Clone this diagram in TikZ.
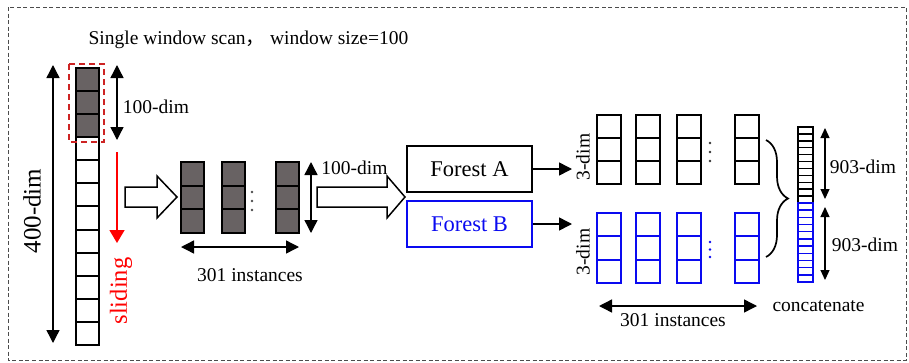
\documentclass[tikz,border=0pt]{standalone}
\usepackage{fontspec}
\setmainfont{Liberation Serif}
\newfontfamily\cjk{Noto Sans CJK SC}
\usetikzlibrary{arrows.meta,decorations.pathreplacing}
\definecolor{cellgray}{RGB}{104,98,99}
\definecolor{winred}{RGB}{205,35,35}
\definecolor{slidered}{RGB}{255,0,0}
\definecolor{fblue}{RGB}{10,10,240}
\tikzset{
  cell/.style={draw=black, line width=1.8pt},
  bcell/.style={draw=fblue, line width=1.8pt},
  thincell/.style={draw=black, line width=1.4pt},
  thinbcell/.style={draw=fblue, line width=1.4pt},
  lbl/.style={inner sep=0pt, font=\fontsize{19.5}{22}\selectfont},
  biglbl/.style={inner sep=0pt, font=\fontsize{25}{28}\selectfont},
  tipT/.tip={Triangle[width=13pt,length=13pt]},
  tipS/.tip={Triangle[width=9pt,length=10pt]},
  dimarrow/.style={line width=1.4pt, tipT-tipT},
  smallarrow/.style={line width=1.2pt, tipS-tipS},
  onearrow/.style={line width=1.5pt, -tipT},
  hollow/.style={draw=black, fill=white, line width=1.5pt, line join=miter},
  forest/.style={draw, line width=1.7pt, minimum width=125pt, minimum height=46pt, inner sep=0pt, font=\fontsize{22.5}{25}\selectfont},
  dot/.style={circle, inner sep=0pt, minimum size=2.8pt},
}
\begin{document}
\begin{tikzpicture}[x=1pt,y=-1pt]
\useasboundingbox (0,0) rectangle (909,362);
% outer dashed frame
\draw[gray!60!black, line width=0.8pt, dash pattern=on 4pt off 2.5pt] (8,7) rectangle (906,360);

% title
\node[lbl] (title) at (248.5,40) {Single window scan{\cjk ，}\ window size=100};

% left 400-dim column
\fill[cellgray] (76,68) rectangle (99,137);
\foreach \i in {0,...,11}
  \draw[cell] (76,{68+round(\i*23.083)}) rectangle (99,{68+round((\i+1)*23.083)});
\draw[winred, line width=1.5pt, dash pattern=on 6pt off 4pt] (69,64) rectangle (104,142);

\coordinate (a400t) at (53,65);
\coordinate (a400b) at (53,343);
\draw[dimarrow] (a400t) -- (a400b);
\node[biglbl, rotate=90] (l400) at (32,211) {400-dim};

\coordinate (w100t) at (117,65);
\coordinate (w100b) at (117,140);
\draw[dimarrow] (w100t) -- (w100b);
\node[lbl] (lw100) at (156,107) {100-dim};

\coordinate (slt) at (117,152);
\coordinate (slb) at (117,243);
\draw[slidered, line width=1.5pt, -{Triangle[width=15pt,length=13pt]}] (slt) -- (slb);
\node[inner sep=0pt, rotate=90, text=slidered, font=\fontsize{24.5}{27}\selectfont] (lsl) at (121,291) {sliding};

% hollow arrows
\draw[hollow] (125,187) -- (157,187) -- (157,176) -- (177,197) -- (157,218) -- (157,207) -- (125,207) -- cycle;
\draw[hollow] (317,187) -- (387,187) -- (387,176) -- (405,197) -- (387,218) -- (387,207) -- (317,207) -- cycle;

% gray instances
\foreach \x in {181,222,276} {
  \fill[cellgray] (\x,162) rectangle (\x+23,233);
  \foreach \i in {0,1,2}
    \draw[cell] (\x,{162+round(\i*23.67)}) rectangle (\x+23,{162+round((\i+1)*23.67)});
}
\foreach \y in {192,201,210}
  \node[dot, fill=black!70] at (252,\y) {};
\coordinate (g100t) at (311,162);
\coordinate (g100b) at (311,233);
\draw[dimarrow] (g100t) -- (g100b);
\node[lbl] (lg100) at (354.5,168) {100-dim};
\coordinate (gi1) at (181,247);
\coordinate (gi2) at (299,247);
\draw[dimarrow] (gi1) -- (gi2);
\node[lbl] (lgi) at (250,275) {301 instances};

% forests
\node[forest] (FA) at (469.5,169) {Forest A};
\node[forest, draw=fblue, text=fblue] (FB) at (469.5,224) {Forest B};
\coordinate (FAt) at (572,169);
\coordinate (FBt) at (572,224);
\draw[onearrow] (FA.east) -- (FAt);
\draw[onearrow] (FB.east) -- (FBt);

% output instances
\foreach \x in {597,636,677,735} {
  \foreach \i in {0,1,2} {
    \draw[cell] (\x,{115+\i*23}) rectangle (\x+24,{115+(\i+1)*23});
    \draw[bcell] (\x,{213+round(\i*23.33)}) rectangle (\x+24,{213+round((\i+1)*23.33)});
  }
}
\foreach \y in {143,152,161}
  \node[dot, fill=black!80] at (710,\y) {};
\foreach \y in {242,249.5,257}
  \node[dot, fill=fblue] at (710,\y) {};
\node[lbl, rotate=90] (l3a) at (583,157) {3-dim};
\node[lbl, rotate=90] (l3b) at (583,252) {3-dim};

% brace
\draw[line width=1.7pt, decorate, decoration={brace, amplitude=22pt}] (766,140) -- (766,257);

% concatenated column
\foreach \i in {0,...,10}
  \draw[thincell] (798,{127+\i*6.909}) rectangle (813,{127+(\i+1)*6.909});
\foreach \i in {0,...,10}
  \draw[thinbcell] (798,{203+\i*7.182}) rectangle (813,{203+(\i+1)*7.182});
\coordinate (c1t) at (825,128);
\coordinate (c1b) at (825,199);
\coordinate (c2t) at (825,207);
\coordinate (c2b) at (825,280);
\draw[smallarrow] (c1t) -- (c1b);
\draw[smallarrow] (c2t) -- (c2b);
\node[lbl] (lc1) at (863,167) {903-dim};
\node[lbl] (lc2) at (865,245) {903-dim};

% bottom
\coordinate (oi1) at (599,306);
\coordinate (oi2) at (757,306);
\draw[dimarrow] (oi1) -- (oi2);
\node[lbl] (loi) at (673,320) {301 instances};
\node[lbl] (lcat) at (818.5,306) {concatenate};
\end{tikzpicture}
\end{document}
